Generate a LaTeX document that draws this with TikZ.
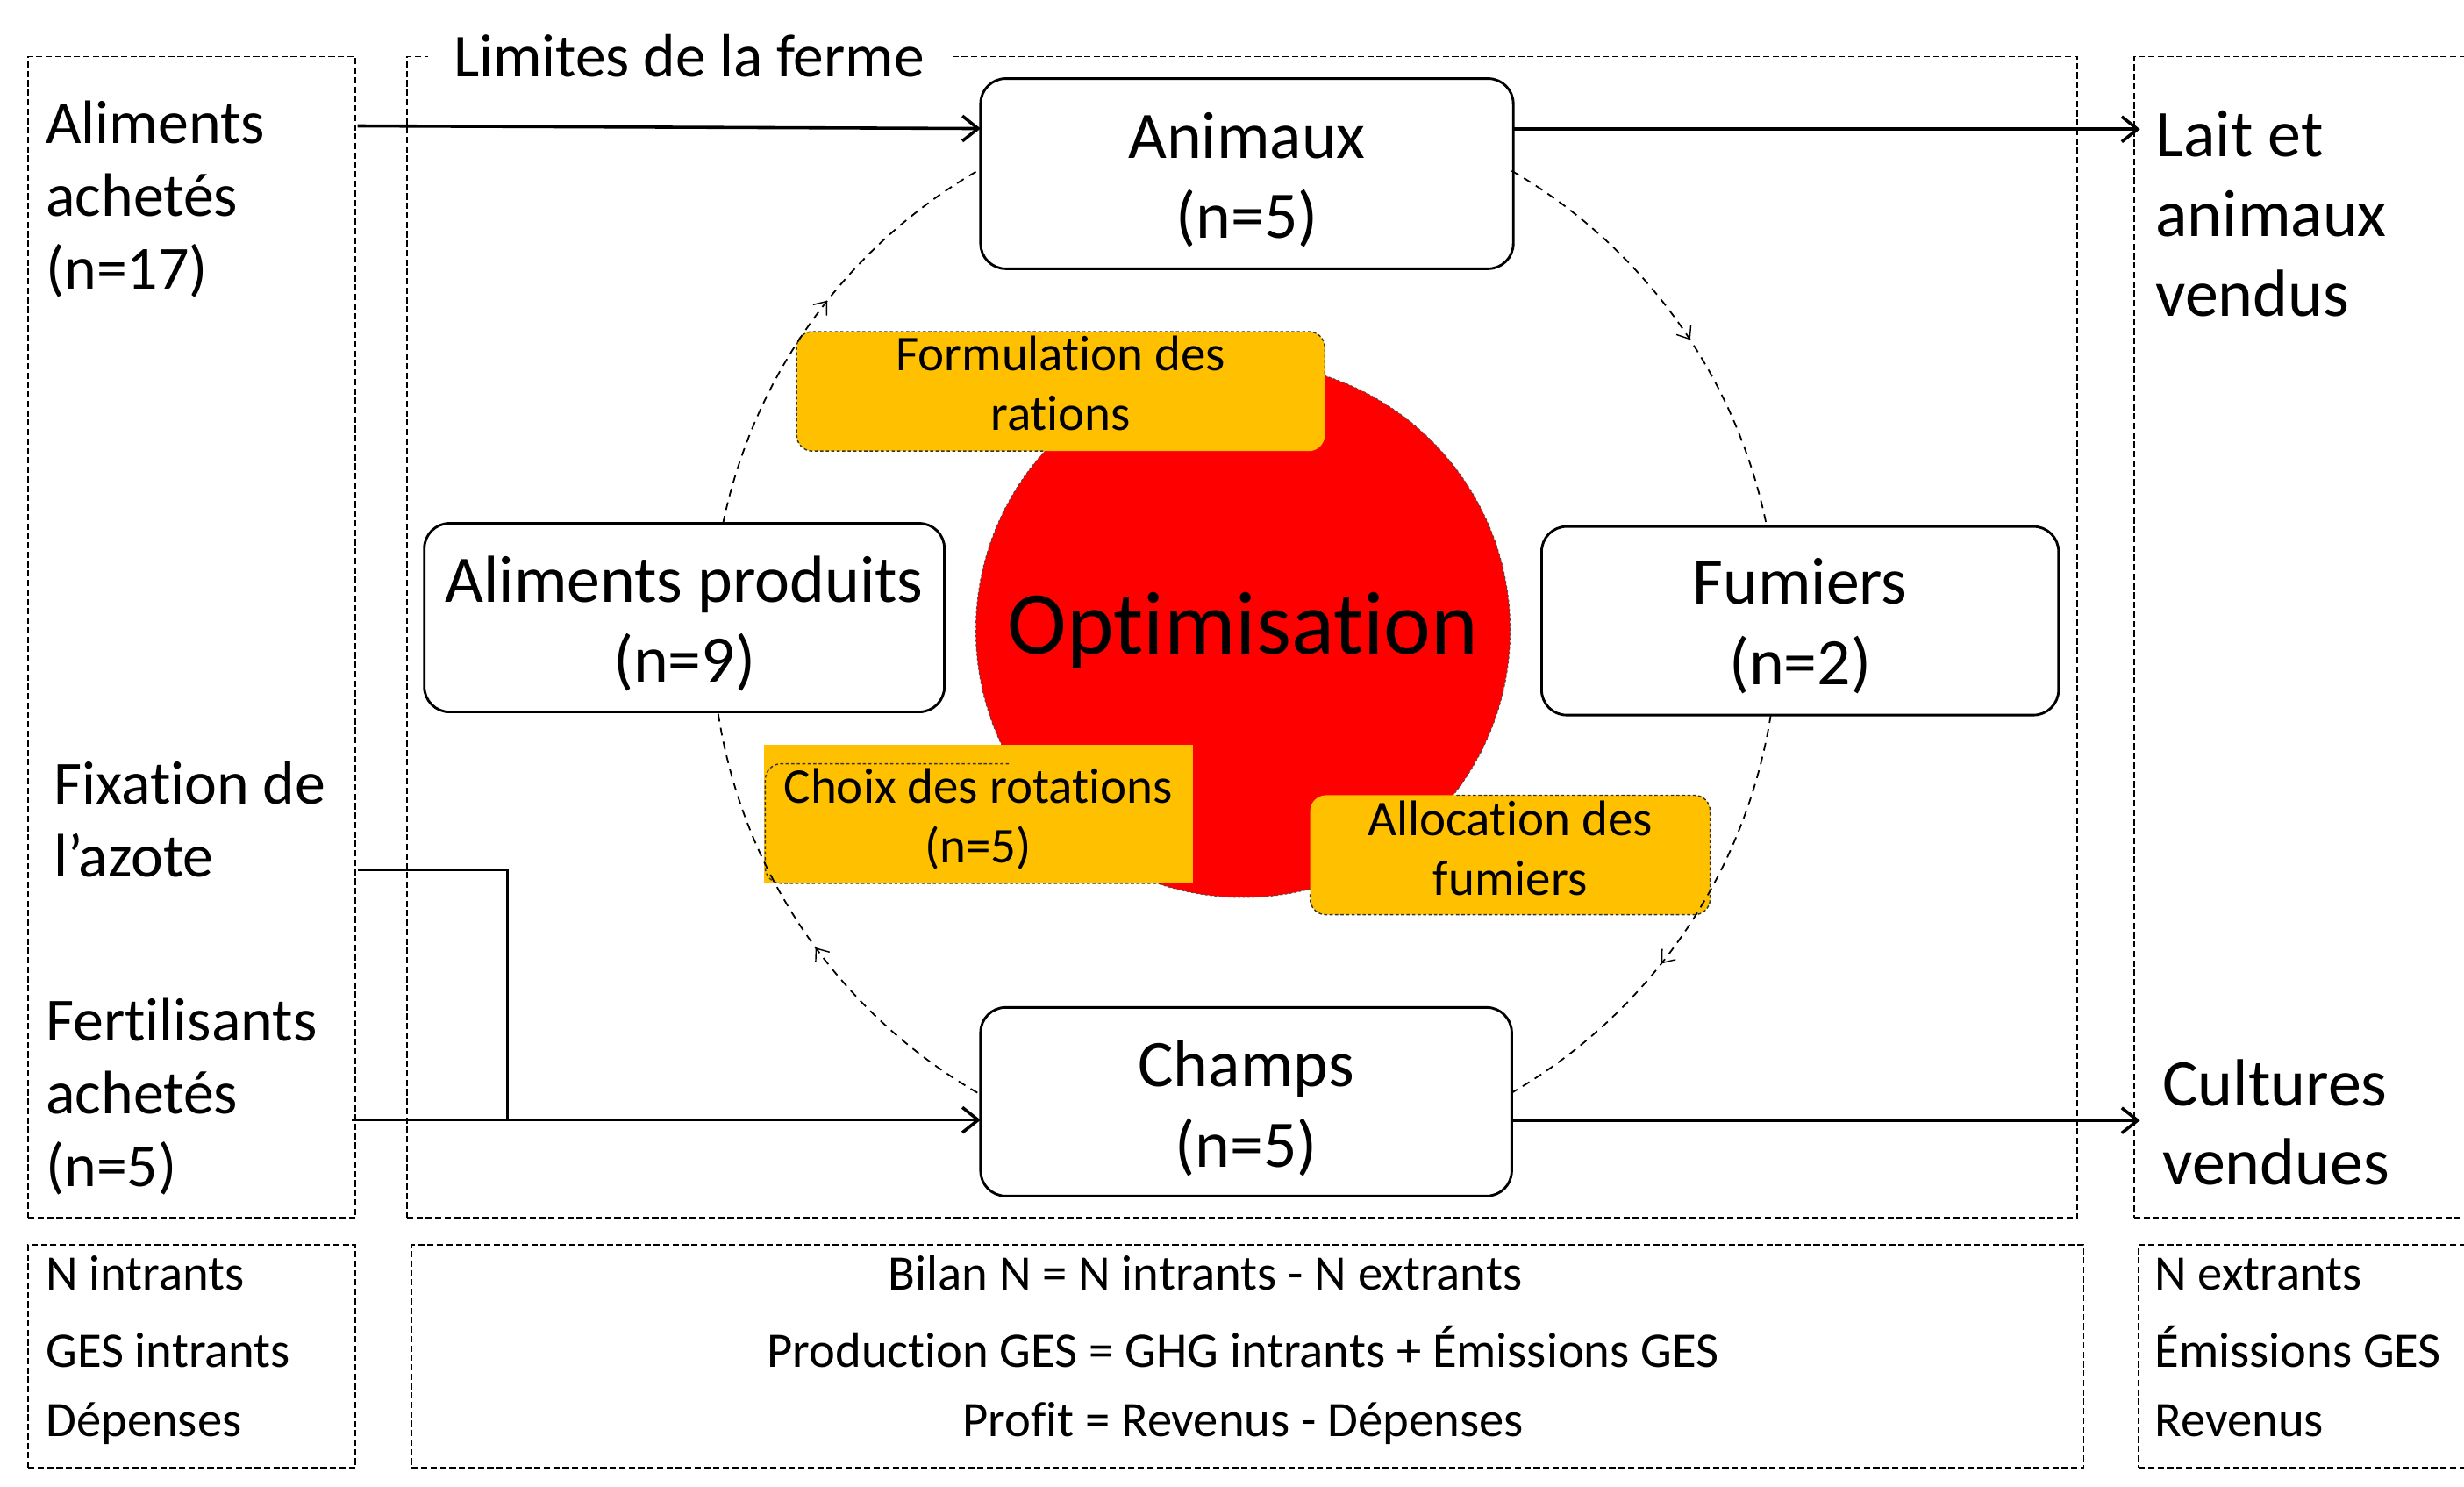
\documentclass[tikz,border=0pt]{standalone}
\usepackage{fontspec}
\setmainfont{Carlito}[Ligatures=NoCommon]
\usetikzlibrary{arrows.meta,decorations.markings}
\definecolor{orangeY}{HTML}{FFC000}
\definecolor{redO}{HTML}{FF0000}
\newcommand\myfs[2]{\fontsize{#1}{#2}\selectfont}
\newcommand\upstrut[1]{\rule{0pt}{#1}}
\tikzset{
  dbox/.style={draw, line width=1.1pt, dash pattern=on 4pt off 2pt, inner sep=0pt, outer sep=0pt},
  rbox/.style={draw, line width=1.6pt, rounded corners=16pt, fill=white, align=center, inner sep=0pt, outer sep=0pt, font=\myfs{42.3}{51}},
  obox/.style={fill=orangeY, align=center, inner sep=0pt, outer sep=0pt, font=\myfs{31.8}{38}},
  obord/.style={draw=black!80, line width=0.8pt, dash pattern=on 2pt off 1.5pt, rounded corners=10pt},
  flow/.style={line width=2pt, -{Straight Barb[length=10pt,width=16pt]}},
  link/.style={line width=2pt},
  cyc/.style={draw, line width=1pt, dash pattern=on 5pt off 4pt,
    postaction={decorate},
    decoration={markings, mark=at position #1 with {\arrow{Straight Barb[length=7pt,width=11pt,line width=0.8pt]}}}},
  lbl/.style={anchor=base west, align=left, inner sep=0pt, font=\myfs{39}{46.4}},
  lblr/.style={anchor=base west, align=left, inner sep=0pt, font=\myfs{42.4}{50.6}},
  lbls/.style={anchor=base west, align=left, inner sep=0pt, font=\myfs{31.6}{49}},
}
\begin{document}
\begin{tikzpicture}[x=1pt,y=-1pt]
\useasboundingbox (0,0) rectangle (1568,945.6);
\clip (0,0) rectangle (1568,945.6);
% dashed frames
\node[dbox, minimum width=208pt, minimum height=739pt] (leftbox) at (122,405.5) {};
\node[dbox, minimum width=1063pt, minimum height=739pt] (farm) at (790.5,405.5) {};
\node[dbox, minimum width=222pt, minimum height=739pt] (rightbox) at (1469,405.5) {};
\node[dbox, minimum width=208pt, minimum height=142pt] (botleft) at (122,863) {};
\node[dbox, minimum width=1064pt, minimum height=142pt] (botmid) at (794,863) {};
\node[dbox, minimum width=219pt, minimum height=142pt] (botright) at (1470.5,863) {};
\node[fill=white, inner xsep=16pt, inner ysep=3pt, anchor=base, font=\myfs{38.8}{46}] (limites) at (438.5,49) {Limites de la ferme};
% optimisation circle
\node[circle, fill=redO, draw=black!70, line width=0.6pt, dash pattern=on 1.5pt off 1.5pt, minimum size=340pt, inner sep=0pt, font=\myfs{57}{60}] (optim) at (791,401) {Optimisation};
% rounded boxes
\node[rbox, minimum width=339pt, minimum height=121pt] (animaux) at (793.5,110.5) {\upstrut{37pt}Animaux\\(n=5)};
\node[rbox, minimum width=331pt, minimum height=120pt] (alimprod) at (435.5,393) {\upstrut{37pt}Aliments produits\\(n=9)};
\node[rbox, minimum width=329pt, minimum height=120pt] (fumiers) at (1145.5,395) {\upstrut{36pt}Fumiers\\(n=2)};
\node[rbox, minimum width=338pt, minimum height=120pt] (champs) at (793,701) {\upstrut{38pt}Champs\\(n=5)};
% orange boxes
\node[obox, rounded corners=10pt, minimum width=336pt, minimum height=76pt] (formul) at (675,249) {Formulation des\\rations\rule[-10pt]{0pt}{0pt}};
\draw[obord] ([yshift=11pt]formul.east) -- (formul.north east) -- (formul.north west) -- (formul.south west) -- ([xshift=-9pt]formul.south);
\node[obox, minimum width=273pt, minimum height=88pt] (choix) at (622.5,518) {\upstrut{28.5pt}Choix des rotations\\(n=5)};
\draw[obord] ([xshift=19.5pt,yshift=-12pt]choix.north) -- ([xshift=1pt,yshift=-12pt]choix.north west) -- ([xshift=1pt]choix.south west) -- ([xshift=118.5pt]choix.south);
\node[obox, rounded corners=10pt, minimum width=254.5pt, minimum height=76pt] (alloc) at (961,544) {Allocation des\\fumiers\rule[-9pt]{0pt}{0pt}};
\draw[obord] ([yshift=-25pt]alloc.west) -- (alloc.south west) -- (alloc.south east) -- (alloc.north east) -- ([xshift=-34.4pt]alloc.north);
% cycle arcs
\coordinate (cyc) at (792,402);
\draw[cyc=0.55] ([shift={(191.7:339)}]cyc) arc[start angle=191.7, end angle=240.3, radius=339];
\draw[cyc=0.55] ([shift={(300.1:339)}]cyc) arc[start angle=300.1, end angle=348.6, radius=339];
\draw[cyc=0.58] ([shift={(9:339)}]cyc) arc[start angle=9, end angle=59.9, radius=339];
\draw[cyc=0.46] ([shift={(120.1:339)}]cyc) arc[start angle=120.1, end angle=171.3, radius=339];
% external flows
\coordinate (aaout) at (227.6,80.1);
\coordinate (laittip) at (1361.8,82.2);
\coordinate (fixout) at (227.6,553.4);
\coordinate (joint) at (323,712.6);
\coordinate (ferout) at (224,712.6);
\coordinate (culttip) at (1361.8,712.9);
\draw[flow] (aaout) -- ([yshift=28.7pt]animaux.west);
\draw[flow] ([yshift=28.3pt]animaux.east) -- (laittip);
\draw[link] (fixout) -| (joint);
\draw[flow] (ferout) -- ([yshift=-11.6pt]champs.west);
\draw[flow] ([yshift=-11.9pt]champs.east) -- (culttip);
% labels (anchored on the baseline of their last line)
\node[lbl] (aa) at (29,184.2) {Aliments\\achetés\\(n=17)};
\node[lbl] (fix) at (34,558) {Fixation de\\l’azote};
\node[lbl] (fert) at (29,755.2) {Fertilisants\\achetés\\(n=5)};
\node[lblr] (lait) at (1371.5,201) {Lait et\\animaux\\vendus};
\node[lblr] (cult) at (1376,754) {Cultures\\vendues};
\node[lbls] (nin) at (29,914) {N intrants\\GES intrants\\[-5pt]Dépenses};
\node[lbls, anchor=base, align=center] (bilan) at (791,914) {Bilan N = N intrants - N extrants\hspace*{48pt}\\Production GES = GHG intrants + Émissions GES\\[-5pt]Profit = Revenus - Dépenses};
\node[lbls] (nex) at (1371,914) {N extrants\\Émissions GES\\[-5pt]Revenus};
\end{tikzpicture}
\end{document}
